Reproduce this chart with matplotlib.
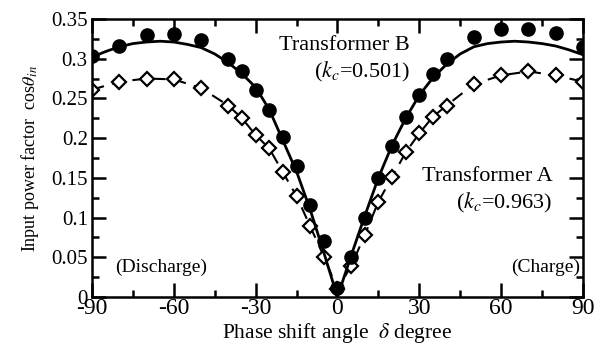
import matplotlib.pyplot as plt
from matplotlib.ticker import MultipleLocator

delta = [-90, -80, -70, -60, -50, -40, -35, -30, -25, -20, -15, -10, -5, 0,
         5, 10, 15, 20, 25, 30, 35, 40, 50, 60, 70, 80, 90]
pf_b = [0.304, 0.316, 0.330, 0.331, 0.323, 0.300, 0.285, 0.261, 0.235, 0.201,
        0.165, 0.116, 0.070, 0.011, 0.051, 0.100, 0.150, 0.190, 0.227, 0.254,
        0.281, 0.300, 0.327, 0.337, 0.338, 0.332, 0.315]
pf_a = [0.261, 0.271, 0.275, 0.274, 0.263, 0.241, 0.225, 0.204, 0.187, 0.157,
        0.127, 0.089, 0.051, 0.010, 0.039, 0.078, 0.120, 0.151, 0.182, 0.206,
        0.227, 0.241, 0.268, 0.279, 0.284, 0.279, 0.271]

# Curva teorica del transformador B
delta_curve = [-90, -85, -80, -75, -70, -65, -60, -55, -50, -45, -40, -35, -30,
               -25, -20, -15, -10, -5, 0, 5, 10, 15, 20, 25, 30, 35, 40, 45,
               50, 55, 60, 65, 70, 75, 80, 85, 90]
pf_curve = [0.302, 0.309, 0.315, 0.319, 0.321, 0.322, 0.321, 0.318, 0.314,
            0.306, 0.295, 0.281, 0.264, 0.236, 0.197, 0.158, 0.110, 0.056,
            0.0, 0.052, 0.102, 0.150, 0.191, 0.225, 0.254, 0.276, 0.293,
            0.306, 0.315, 0.319, 0.321, 0.322, 0.321, 0.319, 0.316, 0.311,
            0.305]

plt.rcParams['font.family'] = ['Liberation Serif', 'DejaVu Serif']
plt.rcParams['mathtext.fontset'] = 'stix'
plt.rcParams['axes.unicode_minus'] = False

fig = plt.figure(figsize=(6.01, 3.45), dpi=100)
ax = fig.add_axes([0.153, 0.139, 0.817, 0.806])

ax.plot(delta, pf_a, linestyle=(0, (6, 4)), color='black', lw=1.5,
        marker='D', markersize=7.5, mfc='white', mec='black', mew=1.6, zorder=2)
ax.plot(delta_curve, pf_curve, color='black', lw=2, zorder=3)
ax.plot(delta, pf_b, linestyle='none', marker='o', markersize=9.5,
        color='black', zorder=4)

ax.set_xlim(-90, 90)
ax.set_ylim(0, 0.35)
ax.xaxis.set_major_locator(MultipleLocator(30))
ax.xaxis.set_minor_locator(MultipleLocator(15))
ax.yaxis.set_minor_locator(MultipleLocator(0.025))
ax.set_yticks([0, 0.05, 0.1, 0.15, 0.2, 0.25, 0.3, 0.35])
ax.set_yticklabels(['0', '0.05', '0.1', '0.15', '0.2', '0.25', '0.3', '0.35'])
ax.tick_params(which='both', direction='in', top=True, right=True, width=1.8)
ax.tick_params(which='major', length=10)
ax.tick_params(which='minor', length=5)
ax.tick_params(axis='x', labelsize=17, pad=1)
ax.tick_params(axis='y', labelsize=15, pad=3)
for s in ax.spines.values():
    s.set_linewidth(1.8)

ax.set_xlabel(r'Phase shift angle  $\delta$ degree', fontsize=15.5, labelpad=1)
ax.set_ylabel(r'Input power factor  cos$\theta_{in}$', fontsize=13, labelpad=7)

ax.text(26.6, 0.316, 'Transformer B', fontsize=16, ha='right', va='center')
ax.text(26.6, 0.283, r'($k_c$=0.501)', fontsize=16, ha='right', va='center')
ax.text(79, 0.152, 'Transformer A', fontsize=16, ha='right', va='center')
ax.text(78.6, 0.119, r'($k_c$=0.963)', fontsize=16, ha='right', va='center')
ax.text(-81.5, 0.038, '(Discharge)', fontsize=14, ha='left', va='center')
ax.text(89, 0.038, '(Charge)', fontsize=14, ha='right', va='center')

plt.savefig('out.png', dpi=100)
